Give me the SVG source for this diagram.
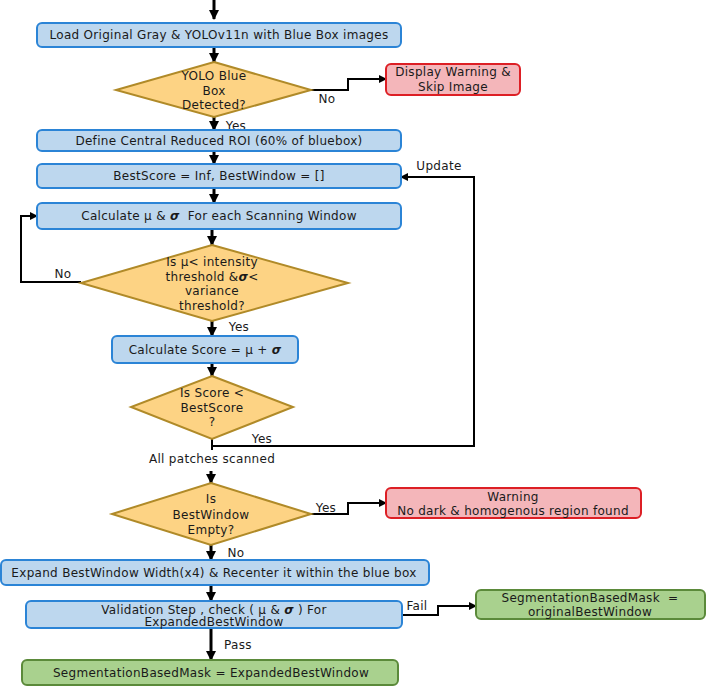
<svg xmlns="http://www.w3.org/2000/svg" width="706" height="687" viewBox="0 0 706 687">
<defs>
<marker id="ah" markerUnits="userSpaceOnUse" markerWidth="10" markerHeight="10" refX="9" refY="5" orient="auto">
<path d="M0,0 L10,5 L0,10 Z" fill="#000"/>
</marker>
<marker id="ahs" markerUnits="userSpaceOnUse" markerWidth="8" markerHeight="8" refX="7" refY="4" orient="auto">
<path d="M0,0 L8,4 L0,8 Z" fill="#000"/>
</marker>
<style>
text{font-family:"DejaVu Sans","Liberation Sans",sans-serif;font-size:12px;letter-spacing:0.3px;fill:#1a1a1a;text-anchor:middle}
.blue{fill:#bdd7ee;stroke:#2b84d6;stroke-width:2}
.dia{fill:#fdd384;stroke:#b08a28;stroke-width:2}
.red{fill:#f4b6ba;stroke:#dd1f25;stroke-width:2}
.green{fill:#a9d18e;stroke:#5b8a3a;stroke-width:2}
.thick{fill:none;stroke:#000;stroke-width:3;marker-end:url(#ah)}
.thin{fill:none;stroke:#000;stroke-width:2;marker-end:url(#ahs)}
.line{fill:none;stroke:#000;stroke-width:2}
.s{font-weight:bold;font-style:italic}
</style>
</defs>
<rect width="706" height="687" fill="#fff"/>

<g id="connectors">
<line class="thick" x1="214" y1="0" x2="214" y2="19"/>
<line class="thick" x1="214" y1="47" x2="214" y2="62"/>
<polyline class="thin" points="311,90 348,90 348,79 386,79"/>
<line class="thick" x1="214" y1="117" x2="214" y2="130"/>
<line class="thick" x1="214" y1="151" x2="214" y2="164"/>
<line class="thick" x1="214" y1="188" x2="214" y2="203"/>
<line class="thick" x1="212" y1="229" x2="212" y2="245"/>
<polyline class="thin" points="81,282 21,282 21,216 37,216"/>
<line class="thick" x1="212" y1="321" x2="212" y2="336"/>
<line class="thick" x1="212" y1="363" x2="212" y2="376"/>
<line class="line" x1="212" y1="439" x2="212" y2="450"/>
<polyline class="thin" points="212,446 474,446 474,177 401,177"/>
<line class="thick" x1="211" y1="471" x2="211" y2="483"/>
<polyline class="thin" points="311,514 348,514 348,503 386,503"/>
<line class="thick" x1="211" y1="545" x2="211" y2="560"/>
<line class="thick" x1="211" y1="585" x2="211" y2="601"/>
<polyline class="thin" points="402,615 438,615 438,606 476,606"/>
<line class="thick" x1="211" y1="628" x2="211" y2="660"/>
<text x="327" y="103">No</text>
<text x="236" y="130">Yes</text>
<text x="63" y="278">No</text>
<text x="239" y="331">Yes</text>
<text x="262" y="443">Yes</text>
<text x="439" y="170">Update</text>
<text x="212" y="463">All patches scanned</text>
<text x="326" y="512">Yes</text>
<text x="236" y="557">No</text>
<text x="417" y="610">Fail</text>
<text x="238" y="649">Pass</text>
</g>

<g id="load">
<rect class="blue" x="37" y="23" width="364" height="24" rx="5"/>
<text x="219" y="39">Load Original Gray &amp; YOLOv11n with Blue Box images</text>
</g>
<g id="yolo-detected">
<polygon class="dia" points="214,62 311,90 214,117 116,90"/>
<text x="214" y="80">YOLO Blue</text>
<text x="214" y="94.5">Box</text>
<text x="214" y="109">Detected?</text>
</g>
<g id="skip">
<rect class="red" x="386" y="64" width="134" height="31" rx="5"/>
<text x="453" y="76">Display Warning &amp;</text>
<text x="453" y="91">Skip Image</text>
</g>
<g id="roi">
<rect class="blue" x="37" y="130" width="364" height="21" rx="5"/>
<text x="219" y="145">Define Central Reduced ROI (60% of bluebox)</text>
</g>
<g id="init">
<rect class="blue" x="37" y="164" width="364" height="24" rx="5"/>
<text x="219" y="180">BestScore = Inf, BestWindow = []</text>
</g>
<g id="calc">
<rect class="blue" x="37" y="203" width="364" height="26" rx="5"/>
<text x="219" y="220">Calculate μ &amp; <tspan class="s">σ</tspan>&#160; For each Scanning Window</text>
</g>
<g id="threshold">
<polygon class="dia" points="212,245 348,283 212,321 81,283"/>
<text x="212" y="266">Is μ&lt; intensity</text>
<text x="212" y="280.5">threshold &amp;<tspan class="s">σ</tspan>&lt;</text>
<text x="212" y="295">variance</text>
<text x="212" y="309.5">threshold?</text>
</g>
<g id="score">
<rect class="blue" x="112" y="336" width="186" height="27" rx="5"/>
<text x="205" y="354">Calculate Score = μ + <tspan class="s">σ</tspan></text>
</g>
<g id="compare">
<polygon class="dia" points="212,376 293,407 212,439 131,407"/>
<text x="212" y="397">Is Score &lt;</text>
<text x="212" y="411.5">BestScore</text>
<text x="212" y="426">?</text>
</g>
<g id="empty">
<polygon class="dia" points="211,483 311,514 211,545 112,514"/>
<text x="211" y="503">Is</text>
<text x="211" y="519">BestWindow</text>
<text x="211" y="534">Empty?</text>
</g>
<g id="warning">
<rect class="red" x="386" y="488" width="255" height="30" rx="5"/>
<text x="513" y="501">Warning</text>
<text x="513" y="515">No dark &amp; homogenous region found</text>
</g>
<g id="expand">
<rect class="blue" x="1" y="560" width="428" height="25" rx="5"/>
<text x="214" y="577">Expand BestWindow Width(x4) &amp; Recenter it within the blue box</text>
</g>
<g id="validate">
<rect class="blue" x="26" y="601" width="376" height="27" rx="5"/>
<text x="214" y="613.5">Validation Step , check ( μ &amp; <tspan class="s">σ</tspan> ) For</text>
<text x="214" y="626">ExpandedBestWindow</text>
</g>
<g id="mask-original">
<rect class="green" x="476" y="590" width="229" height="29" rx="5"/>
<text x="590" y="602">SegmentationBasedMask&#160; =</text>
<text x="590" y="616">originalBestWindow</text>
</g>
<g id="mask-expanded">
<rect class="green" x="22" y="660" width="376" height="25" rx="5"/>
<text x="211" y="677">SegmentationBasedMask = ExpandedBestWindow</text>
</g>
</svg>
